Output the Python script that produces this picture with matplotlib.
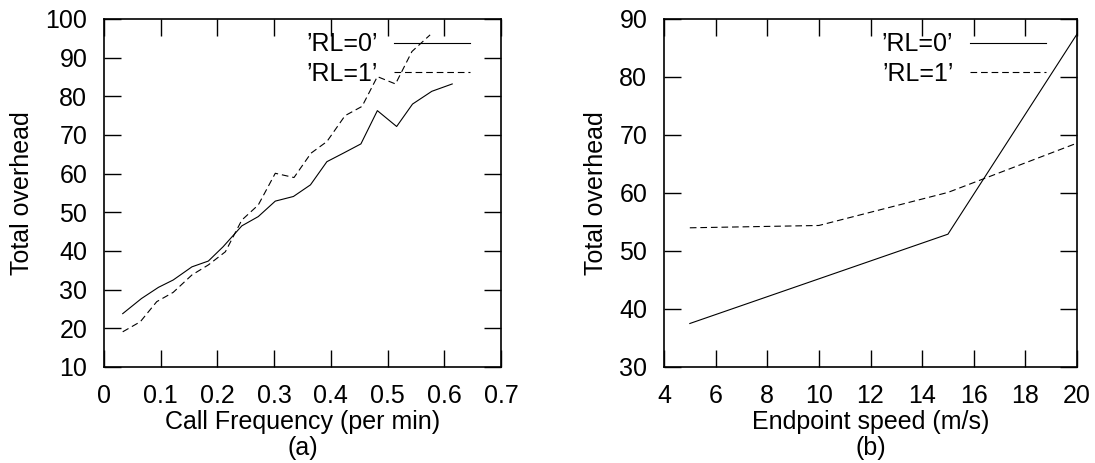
import matplotlib
matplotlib.use("Agg")
import matplotlib.pyplot as plt

plt.rcParams['font.family'] = ['Liberation Sans', 'DejaVu Sans']
plt.rcParams['font.size'] = 18

# (a) overhead vs call frequency
freq_rl0 = [0.033, 0.066, 0.096, 0.122, 0.155, 0.184, 0.210, 0.243, 0.272, 0.302,
            0.334, 0.364, 0.393, 0.422, 0.453, 0.482, 0.516, 0.544, 0.578, 0.614]
over_rl0 = [23.8, 27.7, 30.6, 32.5, 35.9, 37.4, 41.1, 46.5, 48.9, 52.9,
            54.1, 57.1, 63.1, 65.3, 67.7, 76.3, 72.2, 78.0, 81.3, 83.2]
freq_rl1 = [0.033, 0.064, 0.093, 0.122, 0.155, 0.184, 0.214, 0.243, 0.272, 0.302,
            0.335, 0.365, 0.393, 0.425, 0.455, 0.482, 0.514, 0.543, 0.575]
over_rl1 = [19.1, 21.7, 26.9, 29.3, 33.8, 36.4, 39.8, 48.0, 51.9, 60.1,
            59.0, 65.3, 68.3, 75.0, 77.4, 85.1, 83.2, 91.6, 95.9]

# (b) overhead vs endpoint speed
speed_x0 = [5, 15, 20]
speed_y0 = [37.5, 52.9, 87.4]
speed_x1 = [5, 10, 15, 20]
speed_y1 = [54.0, 54.4, 60.1, 68.6]

labels = ["\u2019RL=0\u2019", "\u2019RL=1\u2019"]
dash = (0, (6, 3.5))

fig = plt.figure(figsize=(10.95, 4.63), dpi=100)
ax1 = fig.add_axes([104/1095, 1-367/463, 397/1095, 348/463])
ax2 = fig.add_axes([664/1095, 1-367/463, 413/1095, 348/463])

ax1.plot(freq_rl0, over_rl0, color='black', lw=0.8, label=labels[0])
ax1.plot(freq_rl1, over_rl1, color='black', lw=0.8, ls=dash, label=labels[1])
ax1.set_xlim(0, 0.7)
ax1.set_ylim(10, 100)
ax1.set_xticks([0, 0.1, 0.2, 0.3, 0.4, 0.5, 0.6, 0.7])
ax1.set_xticklabels(['0', '0.1', '0.2', '0.3', '0.4', '0.5', '0.6', '0.7'])
ax1.set_yticks(range(10, 101, 10))
ax1.set_xlabel('Call Frequency (per min)', labelpad=2)
ax1.set_ylabel('Total overhead', labelpad=8)

ax2.plot(speed_x0, speed_y0, color='black', lw=0.8, label=labels[0])
ax2.plot(speed_x1, speed_y1, color='black', lw=0.8, ls=dash, label=labels[1])
ax2.set_xlim(4, 20)
ax2.set_ylim(30, 90)
ax2.set_xticks(range(4, 21, 2))
ax2.set_yticks(range(30, 91, 10))
ax2.set_xlabel('Endpoint speed (m/s)', labelpad=2)
ax2.set_ylabel('Total overhead', labelpad=8)

for ax, right in ((ax1, 0.947), (ax2, 0.949)):
    ax.tick_params(direction='in', length=12, width=1, top=True, right=True, pad=12)
    for s in ax.spines.values():
        s.set_linewidth(1.2)
    ax.legend(loc='upper right', bbox_to_anchor=(right, 0.99), borderaxespad=0,
              frameon=False, markerfirst=False, handlelength=3.05,
              handletextpad=0.65, labelspacing=0.22, fontsize=18)

fig.text((104 + 397/2)/1095, 1-448/463, '(a)', ha='center', va='center', fontsize=18)
fig.text((664 + 413/2)/1095, 1-448/463, '(b)', ha='center', va='center', fontsize=18)

fig.savefig('out.png', dpi=100)
